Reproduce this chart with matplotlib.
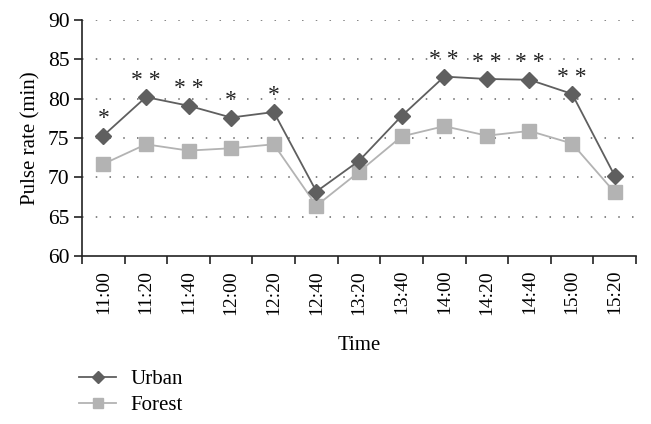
import matplotlib
matplotlib.use("Agg")
import matplotlib.pyplot as plt
import numpy as np

times = ["11:00", "11:20", "11:40", "12:00", "12:20", "12:40", "13:20",
         "13:40", "14:00", "14:20", "14:40", "15:00", "15:20"]
urban = [75.3, 80.2, 79.1, 77.6, 78.3, 68.2, 72.1, 77.8, 82.8, 82.5, 82.4, 80.6, 70.2]
forest = [71.7, 74.2, 73.4, 73.7, 74.2, 66.4, 70.7, 75.2, 76.5, 75.3, 75.9, 74.3, 68.1]
stars = ["*", "* *", "* *", "*", "*", "", "", "", "* *", "* *", "* *", "* *", ""]

plt.rcParams['font.family'] = ['Liberation Serif', 'DejaVu Serif']

fig = plt.figure(figsize=(6.51, 4.24), dpi=100)
ax = fig.add_axes([0.126, 0.396, 0.851, 0.557])

x = np.arange(len(times))
urban_c = "#5f5f5f"
forest_c = "#b3b3b3"
ax.plot(x, urban, color=urban_c, lw=1.3, marker="D", ms=8, mfc=urban_c, mec=urban_c, label="Urban", zorder=4)
ax.plot(x, forest, color=forest_c, lw=1.3, marker="s", ms=9.5, mfc=forest_c, mec=forest_c, label="Forest", zorder=3)

for xi, v, s in zip(x, urban, stars):
    if s:
        ax.text(xi, v + 0.8, s, ha="center", va="bottom", fontsize=17, color="#222222")

ax.set_ylim(60, 90)
ax.set_xlim(-0.5, len(times) - 0.5)
ax.set_yticks(range(60, 91, 5))
ax.set_xticks(x)
ax.set_xticklabels(times, rotation=90, fontsize=14)
ax.set_xticks(np.arange(-0.5, len(times), 1.0), minor=True)
ax.tick_params(axis="x", which="major", length=0, pad=10)
ax.tick_params(axis="x", which="minor", length=6, width=1.2, direction="out", color="#222222")
ax.tick_params(axis="y", labelsize=15.5, length=6, width=1.2, color="#222222", pad=3)

for yv in range(65, 91, 5):
    ax.axhline(yv, color="#666666", lw=1.1, ls=(0, (1, 8)), zorder=1)

for s in ["top", "right"]:
    ax.spines[s].set_visible(False)
for s in ["left", "bottom"]:
    ax.spines[s].set_color("#222222")
    ax.spines[s].set_linewidth(1.2)

ax.set_ylabel("Pulse rate (min)", fontsize=15, labelpad=5)
ax.set_xlabel("Time", fontsize=15, labelpad=15)

handles, labels = ax.get_legend_handles_labels()
fig.legend(handles, labels, loc="upper left", bbox_to_anchor=(0.121, 0.128),
           frameon=False, fontsize=15, handlelength=1.8, handletextpad=0.7,
           labelspacing=0.3, borderaxespad=0, borderpad=0, markerscale=0.8)

fig.savefig("out.png", dpi=100)
